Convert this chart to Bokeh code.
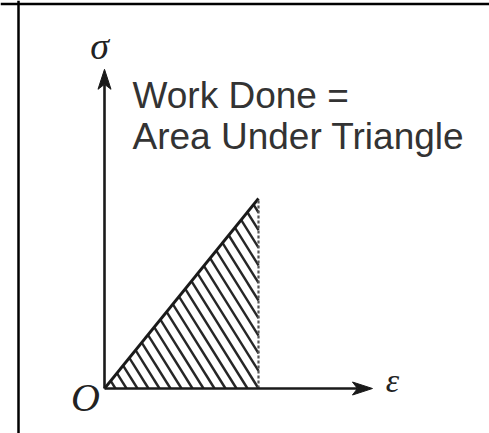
import numpy as np
from bokeh.plotting import figure
from bokeh.models import Range1d, Span
from bokeh.core.properties import value
from bokeh.embed import file_html
from bokeh.resources import INLINE

# Linear-elastic loading: stress rises linearly with strain up to the peak point
strain_path = [0.0, 1.0]
stress_path = [0.0, 1.0]
peak_strain = 1.0
peak_stress = 1.0
axis_strain_end = 1.74
axis_stress_end = 1.68

title_lines = ["Work Done =", "Area Under Triangle"]
x_label = "ε"
y_label = "σ"
origin_label = "O"

# Layout: pixel location of the origin and pixels per unit on each axis
W, H = 489, 433
ox, oy = 104, 388
sx, sy = 154, 190

p = figure(width=W, height=H, output_backend="svg", toolbar_location=None,
           x_range=Range1d(-ox / sx, (W - ox) / sx),
           y_range=Range1d((oy - H) / sy, oy / sy),
           x_axis_type=None, y_axis_type=None, min_border=0)
p.grid.visible = False
p.outline_line_color = None
p.background_fill_color = "white"
p.border_fill_color = "white"

# Frame on the left and top edges
p.add_layout(Span(location=(18 - ox) / sx, dimension="height", line_color="black", line_width=2.5))
p.add_layout(Span(location=(oy - 3.5) / sy, dimension="width", line_color="black", line_width=2.5))

ink = "#1a1a1a"

# Hatching inside the triangle: parallel lines running down to the right
k = 1.6 * sx / sy                      # data-space slope of the hatch lines
step = 11.0 / sx                       # spacing of the lines along the strain axis
slope = peak_stress / peak_strain
hx0, hy0, hx1, hy1 = [], [], [], []
b = step
while True:
    # upper end on the loading line sigma = slope * eps
    eu = k * b / (slope + k)
    su = slope * eu
    if eu >= peak_strain:
        break
    if b <= peak_strain:
        el, sl = b, 0.0
    else:
        el, sl = peak_strain, k * (b - peak_strain)
    hx0.append(eu); hy0.append(su); hx1.append(el); hy1.append(sl)
    b += step
p.segment(hx0, hy0, hx1, hy1, line_color="#262626", line_width=2.4)

# Loading line and unloading (dashed) line
p.line(strain_path, stress_path, line_color=ink, line_width=2.8)
p.line([peak_strain, peak_strain], [0, peak_stress], line_color="#555555",
       line_width=2.2, line_dash="3 2")

# Axes with arrowheads
L, hw, notch = 20, 6.5, 5
p.line([0, 0], [0, axis_stress_end - (L - notch) / sy], line_color=ink, line_width=2.6)
p.line([0, axis_strain_end - (L - notch) / sx], [0, 0], line_color=ink, line_width=2.6)
p.patch([0, -hw / sx, 0, hw / sx],
        [axis_stress_end, axis_stress_end - L / sy, axis_stress_end - (L - notch) / sy, axis_stress_end - L / sy],
        color=ink, line_width=1)
p.patch([axis_strain_end, axis_strain_end - L / sx, axis_strain_end - (L - notch) / sx, axis_strain_end - L / sx],
        [0, hw / sy, 0, -hw / sy], color=ink, line_width=1)

# Labels
p.text(x=[(132 - ox) / sx] * 2, y=[(oy - 95) / sy, (oy - 136) / sy], text=title_lines,
       text_font=value("Liberation Sans"), text_font_size="37px", text_color="#333333",
       text_baseline="alphabetic", text_align="left")
p.text(x=[-5 / sx], y=[(oy - 45) / sy], text=[y_label], text_font=value("Liberation Serif"),
       text_font_style="italic", text_font_size="38px", text_color="#222222",
       text_align="center", text_baseline="middle")
p.text(x=[(392 - ox) / sx], y=[(oy - 380) / sy], text=[x_label], text_font=value("Liberation Serif"),
       text_font_style="italic", text_font_size="34px", text_color="#222222",
       text_align="center", text_baseline="middle")
p.text(x=[(85 - ox) / sx], y=[(oy - 397) / sy], text=[origin_label], text_font=value("Liberation Serif"),
       text_font_style="italic", text_font_size="40px", text_color="#222222",
       text_align="center", text_baseline="middle")

open("out.html", "w").write(file_html(p, INLINE))
